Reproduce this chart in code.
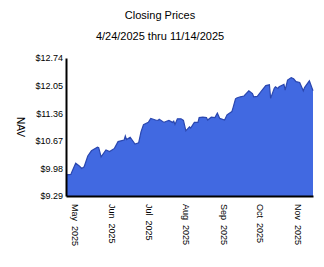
<!DOCTYPE html>
<html>
<head>
<meta charset="utf-8">
<script src="https://cdn.jsdelivr.net/npm/d3@7"></script>
<style>
body { margin: 0; background: #fff; }
text { font-family: "Liberation Sans", Arial, sans-serif; fill: #000; }
</style>
</head>
<body>
<div id="chart"></div>
<script>
// ---------- DATA ----------
const dates = [
	"2025-04-24", "2025-04-28", "2025-04-29", "2025-05-02", "2025-05-05", "2025-05-07",
	"2025-05-09", "2025-05-12", "2025-05-15", "2025-05-20", "2025-05-21", "2025-05-23",
	"2025-05-27", "2025-05-30", "2025-06-03", "2025-06-06", "2025-06-11", "2025-06-12",
	"2025-06-13", "2025-06-16", "2025-06-20", "2025-06-23", "2025-06-25", "2025-06-27",
	"2025-07-01", "2025-07-03", "2025-07-07", "2025-07-09", "2025-07-10", "2025-07-14",
	"2025-07-16", "2025-07-18", "2025-07-21", "2025-07-22", "2025-07-23", "2025-07-25",
	"2025-07-28", "2025-07-30", "2025-08-01", "2025-08-04", "2025-08-05", "2025-08-08",
	"2025-08-11", "2025-08-12", "2025-08-15", "2025-08-18", "2025-08-19", "2025-08-22",
	"2025-08-25", "2025-08-27", "2025-08-29", "2025-09-02", "2025-09-04", "2025-09-08",
	"2025-09-09", "2025-09-11", "2025-09-12", "2025-09-15", "2025-09-18", "2025-09-22",
	"2025-09-25", "2025-09-26", "2025-09-29", "2025-10-03", "2025-10-06", "2025-10-09",
	"2025-10-10", "2025-10-13", "2025-10-14", "2025-10-16", "2025-10-17", "2025-10-21",
	"2025-10-22", "2025-10-24", "2025-10-27", "2025-10-29", "2025-10-31", "2025-11-03",
	"2025-11-06", "2025-11-07", "2025-11-11", "2025-11-14",
];
const navValues = [
	9.82, 9.83, 9.90, 10.11, 10.04, 9.98,
	10.02, 10.29, 10.42, 10.51, 10.50, 10.27,
	10.44, 10.40, 10.48, 10.65, 10.69, 10.79,
	10.70, 10.76, 10.59, 10.62, 10.90, 11.07,
	11.13, 11.23, 11.19, 11.18, 11.21, 11.13,
	11.16, 11.18, 11.13, 11.16, 11.08, 11.22,
	11.22, 11.18, 10.92, 11.02, 10.99, 11.13,
	11.13, 11.25, 11.26, 11.25, 11.19, 11.26,
	11.25, 11.36, 11.23, 11.19, 11.32, 11.40,
	11.50, 11.72, 11.74, 11.77, 11.79, 11.92,
	11.85, 11.77, 11.78, 11.94, 12.05, 12.07,
	11.73, 11.98, 12.02, 11.98, 12.02, 12.08,
	11.94, 12.19, 12.25, 12.22, 12.15, 12.13,
	11.92, 12.00, 12.17, 11.92,
];
const yTicks = [9.29, 9.98, 10.67, 11.36, 12.05, 12.74];
const xTicks = ["2025-05-01", "2025-06-01", "2025-07-01", "2025-08-01", "2025-09-01", "2025-10-01", "2025-11-01"];
const dateRange = ["2025-04-24", "2025-11-14"];

const size = { w: 324, h: 267 };
const plot = { left: 66, right: 313, top: 58, bottom: 196 };
const colors = { fill: "#4169e1", line: "#2a47b0" };

const parse = d3.timeParse("%Y-%m-%d");
const data = dates.map((d, i) => ({ date: parse(d), value: navValues[i] }));

const svg = d3
	.select("#chart")
	.append("svg")
	.attr("width", size.w)
	.attr("height", size.h);

svg.append("rect").attr("width", size.w).attr("height", size.h).attr("fill", "#fff");

// scales
const xScale = d3
	.scaleTime()
	.domain(dateRange.map(parse))
	.range([plot.left, plot.right]);
const yScale = d3
	.scaleLinear()
	.domain([yTicks[0], yTicks[yTicks.length - 1]])
	.range([plot.bottom, plot.top]);

// area + outline
const area = d3
	.area()
	.x((d) => xScale(d.date))
	.y0(yScale(yTicks[0]))
	.y1((d) => yScale(d.value));
const line = d3
	.line()
	.x((d) => xScale(d.date))
	.y((d) => yScale(d.value));

svg.append("path").datum(data).attr("d", area).attr("fill", colors.fill);
svg
	.append("path")
	.datum(data)
	.attr("d", line)
	.attr("fill", "none")
	.attr("stroke", colors.line)
	.attr("stroke-width", 1.2);

// y axis
const yAxis = svg
	.append("g")
	.attr("transform", `translate(${plot.left}, 0)`)
	.call(
		d3
			.axisLeft(yScale)
			.tickValues(yTicks)
			.tickSize(0)
			.tickPadding(3)
			.tickFormat((d) => "$" + d.toFixed(2))
	);
yAxis.select(".domain").attr("stroke", "#000").attr("stroke-width", 2);
yAxis.selectAll("text").attr("font-size", 9).attr("font-family", null);

// x axis
const xAxis = svg
	.append("g")
	.attr("transform", `translate(0, ${plot.bottom})`)
	.call(
		d3
			.axisBottom(xScale)
			.tickValues(xTicks.map(parse))
			.tickSize(0)
			.tickFormat(d3.timeFormat("%b\u00a0\u00a0%Y"))
	);
xAxis.select(".domain").attr("stroke", "#000").attr("stroke-width", 2);
xAxis
	.selectAll("text")
	.attr("font-size", 9)
	.attr("font-family", null)
	.attr("x", 8)
	.attr("y", 0)
	.attr("dy", "0.35em")
	.attr("transform", "rotate(90)")
	.style("text-anchor", "start");

// titles
svg
	.append("text")
	.attr("x", 160)
	.attr("y", 19)
	.attr("text-anchor", "middle")
	.attr("font-size", 11)
	.text("Closing Prices");
svg
	.append("text")
	.attr("x", 160)
	.attr("y", 40)
	.attr("text-anchor", "middle")
	.attr("font-size", 11)
	.text("4/24/2025 thru 11/14/2025");
svg
	.append("text")
	.attr("transform", "translate(17, 127) rotate(90)")
	.attr("text-anchor", "middle")
	.attr("font-size", 10)
	.text("NAV");
</script>
</body>
</html>
